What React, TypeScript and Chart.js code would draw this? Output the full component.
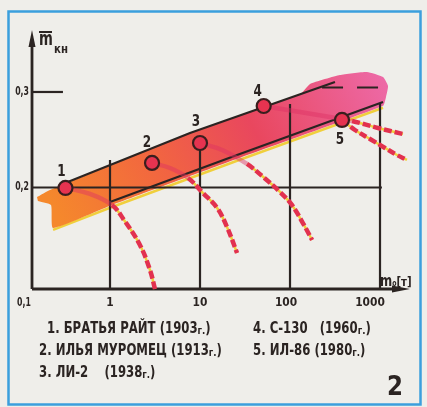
import { useEffect, useRef } from "react";
import { Chart, registerables } from "chart.js";

Chart.register(...registerables);

// Aircraft: takeoff mass m0 (t) and relative payload m̄кн
const AIRCRAFT = ["БРАТЬЯ РАЙТ", "ИЛЬЯ МУРОМЕЦ", "ЛИ-2", "С-130", "ИЛ-86"];
const YEARS = [1903, 1913, 1938, 1960, 1980];
const POINT_M0 = [0.32, 2.93, 10, 51, 378];
const POINT_MKN = [0.1995, 0.2257, 0.2466, 0.2853, 0.2707];

// Falling branches of each aircraft's curve
const CURVE1_M0 = [0.32, 0.6, 1.05, 1.43, 2.15, 2.78, 3.16];
const CURVE1_MKN = [0.1995, 0.1932, 0.1817, 0.166, 0.1398, 0.1136, 0.0937];
const CURVE2_M0 = [2.93, 4.64, 7.36, 10.8, 15.5, 19.95, 25.8];
const CURVE2_MKN = [0.2257, 0.2204, 0.21, 0.1942, 0.1785, 0.1586, 0.1314];
const CURVE3_M0 = [10, 17.6, 33.3, 48.9, 77.4, 105, 139, 176];
const CURVE3_MKN = [0.2466, 0.2393, 0.2246, 0.212, 0.1953, 0.1817, 0.1628, 0.145];
const CURVE4_M0 = [51, 129, 278, 489, 950, 1800];
const CURVE4_MKN = [0.2853, 0.2791, 0.2738, 0.2696, 0.2623, 0.256];
const CURVE5_M0 = [378, 527, 774, 1136, 1545, 1995];
const CURVE5_MKN = [0.2707, 0.2602, 0.2508, 0.2414, 0.234, 0.2288];

// Shaded trend band (closed outline: top edge left→right, bottom edge right→left)
const BAND_M0 = [0.1545, 0.215, 0.378, 7.74, 129, 167, 359, 717, 1080, 1228, 1166, 1080, 25.8, 1, 0.233, 0.221, 0.158];
const BAND_MKN = [0.19, 0.1974, 0.2068, 0.2571, 0.2976, 0.3084, 0.3178, 0.321, 0.3157, 0.3063, 0.2948, 0.2855, 0.23, 0.1808, 0.1576, 0.1817, 0.1859];
const FRINGE_M0 = [0.233, 1, 25.8, 1080];
const FRINGE_MKN = [0.1556, 0.1788, 0.228, 0.2835];

// Band boundary lines and the upper limit
const UPPER_M0 = [0.35, 7.74, 316];
const UPPER_MKN = [0.2062, 0.2571, 0.3105];
const LOWER_M0 = [1, 25.8, 1080];
const LOWER_MKN = [0.1848, 0.234, 0.2895];
const LIMIT_M0 = [227, 1000, 1000];
const LIMIT_MKN = [0.3047, 0.3047, 0.2963];

// Axes
const X_MIN = 0.1359;
const X_MAX = 2154;
const Y_MIN = 0.0937;
const Y_MAX = 0.3649;
const X_TICKS = [1, 10, 100, 1000];
const X_TICK_LABELS = ["1", "10", "100", "1000"];
const X_ORIGIN_LABEL = "0,1";
const GRID_TOP = [0.2288, 0.2466, 0.2874, 0.2885];
const Y_TICKS = [0.2, 0.3];
const Y_TICK_LABELS = ["0,2", "0,3"];
const Y_TICK_REACH = [1050, 0.3];

const INK = "#2b2422";
const RED = "#e2314f";
const SOFT_RED = "rgba(222, 48, 100, 0.45)";
const YELLOW = "#f0cf3c";
const PAPER = "#efeeea";
const FRAME = "#3b9fdd";
const FONT = '"DejaVu Sans", sans-serif';

const pts = (xs: number[], ys: number[]) => xs.map((x, i) => ({ x, y: ys[i] }));

type Run = { t: string; size: number; dy?: number };

function txt(
  ctx: CanvasRenderingContext2D,
  s: string,
  x: number,
  y: number,
  size: number,
  sx = 0.78,
  align: CanvasTextAlign = "left",
  weight = "bold"
) {
  ctx.save();
  ctx.translate(x, y);
  ctx.scale(sx, 1);
  ctx.font = `${weight} ${size}px ${FONT}`;
  ctx.textAlign = align;
  ctx.textBaseline = "alphabetic";
  ctx.fillStyle = INK;
  ctx.fillText(s, 0, 0);
  ctx.restore();
}

function runs(ctx: CanvasRenderingContext2D, parts: Run[], x: number, y: number, sx = 0.78) {
  ctx.save();
  ctx.translate(x, y);
  ctx.scale(sx, 1);
  ctx.fillStyle = INK;
  ctx.textBaseline = "alphabetic";
  let cx = 0;
  for (const p of parts) {
    ctx.font = `bold ${p.size}px ${FONT}`;
    ctx.fillText(p.t, cx, p.dy ?? 0);
    cx += ctx.measureText(p.t).width;
  }
  ctx.restore();
}

function curveSets(m0: number[], mkn: number[], exitIdx: number) {
  const data = pts(m0, mkn);
  return [
    {
      data,
      order: 4,
      borderWidth: 2.5,
      tension: 0.4,
      borderColor: YELLOW,
      segment: {
        borderColor: (s: any) => (s.p0DataIndex >= exitIdx ? YELLOW : "rgba(0,0,0,0)"),
      },
    },
    {
      data,
      order: 3,
      borderWidth: 4.5,
      tension: 0.4,
      borderColor: RED,
      borderCapStyle: "butt",
      segment: {
        borderColor: (s: any) => (s.p0DataIndex >= exitIdx ? RED : SOFT_RED),
        borderDash: (s: any) => (s.p0DataIndex >= exitIdx ? [8, 3] : undefined),
      },
    },
  ];
}

const BAND_INDEX = 1;

const sketch = {
  id: "sketch",
  beforeDraw(chart: any) {
    const { ctx, width, height } = chart;
    ctx.save();
    ctx.fillStyle = PAPER;
    ctx.fillRect(0, 0, width, height);
    ctx.strokeStyle = FRAME;
    ctx.lineWidth = 2.5;
    ctx.strokeRect(8.5, 11.5, 412, 393);
    ctx.restore();
  },
  afterDatasetDraw(chart: any, args: any) {
    if (args.index !== BAND_INDEX) return;
    const { ctx, chartArea } = chart;
    const xs = chart.scales.x;
    const ys = chart.scales.y;
    const X = (v: number) => xs.getPixelForValue(v);
    const Y = (v: number) => ys.getPixelForValue(v);
    const { left, right, top, bottom } = chartArea;
    const seg = (x1: number, y1: number, x2: number, y2: number) => {
      ctx.beginPath();
      ctx.moveTo(x1, y1);
      ctx.lineTo(x2, y2);
      ctx.stroke();
    };
    ctx.save();
    ctx.strokeStyle = INK;
    ctx.fillStyle = INK;
    ctx.lineWidth = 2.2;
    X_TICKS.forEach((v, i) => seg(X(v), bottom, X(v), Y(GRID_TOP[i])));
    Y_TICKS.forEach((v, i) => seg(left, Y(v), X(Y_TICK_REACH[i]), Y(v)));
    ctx.lineWidth = 2.8;
    seg(left, bottom, right - 12, bottom);
    seg(left, bottom, left, top + 12);
    ctx.beginPath();
    ctx.moveTo(right, bottom);
    ctx.lineTo(right - 18, bottom - 3.5);
    ctx.lineTo(right - 18, bottom + 3.5);
    ctx.closePath();
    ctx.fill();
    ctx.beginPath();
    ctx.moveTo(left, top);
    ctx.lineTo(left - 3.5, top + 17);
    ctx.lineTo(left + 3.5, top + 17);
    ctx.closePath();
    ctx.fill();
    ctx.restore();
  },
  afterDraw(chart: any) {
    const { ctx, chartArea } = chart;
    const xs = chart.scales.x;
    const ys = chart.scales.y;
    const X = (v: number) => xs.getPixelForValue(v);
    const Y = (v: number) => ys.getPixelForValue(v);
    const { left, right, bottom } = chartArea;

    // tick labels
    X_TICKS.forEach((v, i) => txt(ctx, X_TICK_LABELS[i], X(v) - (i === 3 ? 10 : i === 2 ? 4 : 0), bottom + 17, 13, 0.82, "center"));
    txt(ctx, X_ORIGIN_LABEL, left - 8, bottom + 17, 12, 0.65, "center");
    Y_TICKS.forEach((v, i) => txt(ctx, Y_TICK_LABELS[i], left - 3, Y(v) + 3, 12, 0.65, "right"));

    // axis titles
    txt(ctx, "m", left + 7, 45, 19, 0.7);
    ctx.save();
    ctx.strokeStyle = INK;
    ctx.lineWidth = 2;
    ctx.beginPath();
    ctx.moveTo(left + 7, 32);
    ctx.lineTo(left + 20, 32);
    ctx.stroke();
    ctx.restore();
    txt(ctx, "кн", left + 22, 53, 12, 0.85);
    runs(
      ctx,
      [
        { t: "m", size: 15 },
        { t: "o", size: 8 },
        { t: "[т]", size: 13 },
      ],
      right - 30,
      bottom - 3,
      0.78
    );

    // point numbers
    const NUM_OFFSET = [
      [-4, -12],
      [-5, -16],
      [-4, -17],
      [-6, -10],
      [-2, 24],
    ];
    POINT_M0.forEach((v, i) =>
      txt(ctx, String(i + 1), X(v) + NUM_OFFSET[i][0], Y(POINT_MKN[i]) + NUM_OFFSET[i][1], 16, 0.75, "center")
    );

    // list of aircraft
    const LEGEND_POS = [
      [47, 333],
      [39, 355],
      [39, 377],
      [253, 333],
      [253, 355],
    ];
    const GAP = ["", "", "   ", "  ", ""];
    AIRCRAFT.forEach((name, i) =>
      runs(
        ctx,
        [
          { t: `${i + 1}. ${name}${GAP[i]} (${YEARS[i]}`, size: 15 },
          { t: "г.", size: 11, dy: 1 },
          { t: ")", size: 15 },
        ],
        LEGEND_POS[i][0],
        LEGEND_POS[i][1],
        0.78
      )
    );
    txt(ctx, "2", 395, 395, 27, 0.85, "center");
  },
};

export default function App() {
  const ref = useRef<HTMLCanvasElement | null>(null);

  useEffect(() => {
    const canvas = ref.current;
    if (!canvas) return;

    const bandFill = (c: any) => {
      const chart = c.chart;
      if (!chart.chartArea) return "#ef6040";
      const xs = chart.scales.x;
      const ys = chart.scales.y;
      const g = chart.ctx.createLinearGradient(
        xs.getPixelForValue(0.3),
        ys.getPixelForValue(0.16),
        xs.getPixelForValue(1000),
        ys.getPixelForValue(0.33)
      );
      g.addColorStop(0, "#f5882c");
      g.addColorStop(0.3, "#f2673f");
      g.addColorStop(0.6, "#e9475e");
      g.addColorStop(1, "#ed6aa8");
      return g;
    };

    const datasets: any[] = [
      {
        data: pts(FRINGE_M0, FRINGE_MKN),
        order: 21,
        borderColor: YELLOW,
        borderWidth: 2.5,
      },
      {
        data: pts(BAND_M0, BAND_MKN),
        order: 20,
        borderWidth: 0,
        tension: 0.15,
        fill: "shape",
        backgroundColor: bandFill,
      },
      {
        data: pts(UPPER_M0, UPPER_MKN),
        order: 8,
        borderColor: INK,
        borderWidth: 2.2,
      },
      {
        data: pts(LOWER_M0, LOWER_MKN),
        order: 8,
        borderColor: INK,
        borderWidth: 2.2,
      },
      {
        data: pts(LIMIT_M0, LIMIT_MKN),
        order: 8,
        borderColor: INK,
        borderWidth: 2.2,
        borderDash: [21, 14],
      },
      ...curveSets(CURVE1_M0, CURVE1_MKN, 2),
      ...curveSets(CURVE2_M0, CURVE2_MKN, 2),
      ...curveSets(CURVE3_M0, CURVE3_MKN, 2),
      ...curveSets(CURVE4_M0, CURVE4_MKN, 3),
      ...curveSets(CURVE5_M0, CURVE5_MKN, 0),
      {
        data: pts(POINT_M0, POINT_MKN),
        order: 1,
        showLine: false,
        pointRadius: 7,
        pointBorderWidth: 2.2,
        pointBackgroundColor: "#e63350",
        pointBorderColor: "#3a1e1e",
      },
    ];
    datasets.forEach((d) => {
      d.clip = false;
      if (d.pointRadius === undefined) d.pointRadius = 0;
    });

    const chart = new Chart(canvas, {
      type: "line",
      data: { datasets },
      options: {
        responsive: false,
        animation: false,
        devicePixelRatio: 1,
        parsing: true,
        layout: { padding: { left: 32, top: 30, right: 17, bottom: 118 } },
        scales: {
          x: { type: "logarithmic", min: X_MIN, max: X_MAX, display: false },
          y: { type: "linear", min: Y_MIN, max: Y_MAX, display: false },
        },
        plugins: {
          legend: { display: false },
          tooltip: { enabled: false },
        },
        events: [],
      },
      plugins: [sketch],
    } as any);

    return () => chart.destroy();
  }, []);

  return (
    <div style={{ position: "fixed", left: 0, top: 0, width: 427, height: 407, background: PAPER }}>
      <canvas ref={ref} width={427} height={407} style={{ display: "block", width: 427, height: 407 }} />
    </div>
  );
}
